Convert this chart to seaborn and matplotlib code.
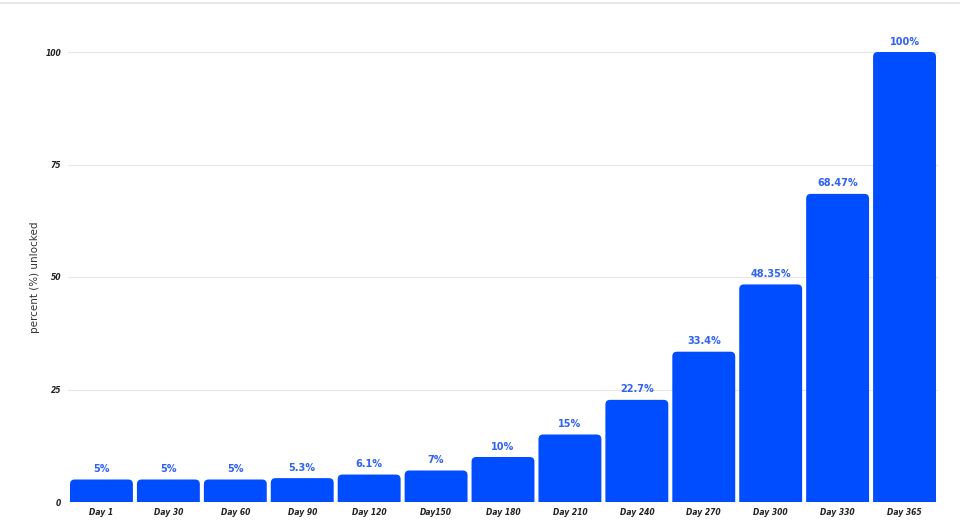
import pandas as pd
import matplotlib
matplotlib.use("Agg")
import matplotlib.pyplot as plt
from matplotlib.patches import FancyBboxPatch
from matplotlib.lines import Line2D
import seaborn as sns

# data
days = ["Day 1", "Day 30", "Day 60", "Day 90", "Day 120", "Day150", "Day 180",
        "Day 210", "Day 240", "Day 270", "Day 300", "Day 330", "Day 365"]
unlocked = [5, 5, 5, 5.3, 6.1, 7, 10, 15, 22.7, 33.4, 48.35, 68.47, 100]
labels = ["5%", "5%", "5%", "5.3%", "6.1%", "7%", "10%", "15%", "22.7%",
          "33.4%", "48.35%", "68.47%", "100%"]

df = pd.DataFrame({"day": days, "pct": unlocked})

sns.set_style("white")
plt.rcParams["font.family"] = ["DejaVu Sans"]

fig = plt.figure(figsize=(9.6, 5.23), dpi=100)
ax = fig.add_axes([68 / 960, 1 - 502 / 523, 870 / 960, 450 / 523])

bar_color = "#004CFF"
sns.barplot(data=df, x="day", y="pct", color=bar_color, width=0.94,
            saturation=1, ax=ax, zorder=2)

# rounded tops
old = list(ax.patches)
for p in old:
    x, w, h = p.get_x(), p.get_width(), p.get_height()
    p.remove()
    fb = FancyBboxPatch((x, -3), w, h + 3,
                        boxstyle="round,pad=0,rounding_size=0.07",
                        mutation_aspect=15, facecolor=bar_color,
                        edgecolor="none", zorder=2)
    ax.add_patch(fb)

for i, (v, lab) in enumerate(zip(unlocked, labels)):
    ax.text(i, v + 1.2, lab, ha="center", va="bottom", fontsize=7,
            fontweight="bold", color="#2F62F5", clip_on=False)

ax.set_xlim(-0.5, len(days) - 0.5)
ax.set_ylim(0, 100)
ax.set_yticks([0, 25, 50, 75, 100])
ax.yaxis.grid(True, color="#e6e6e6", linewidth=0.8, zorder=0)
ax.set_axisbelow(True)
for s in ax.spines.values():
    s.set_visible(False)

ax.tick_params(axis="both", length=0, labelsize=5.5, colors="#222222")
ax.tick_params(axis="y", pad=5)
ax.tick_params(axis="x", pad=4)
for t in ax.get_xticklabels() + ax.get_yticklabels():
    t.set_fontweight("bold")
    t.set_fontstyle("italic")

ax.set_xlabel("")
ax.set_ylabel("percent (%) unlocked", fontsize=7.5, color="#333333", labelpad=4)

fig.add_artist(Line2D([0, 1], [1 - 3 / 523, 1 - 3 / 523], color="#e8e8e8",
                      linewidth=1.5, transform=fig.transFigure))

fig.savefig("out.png", dpi=100)
